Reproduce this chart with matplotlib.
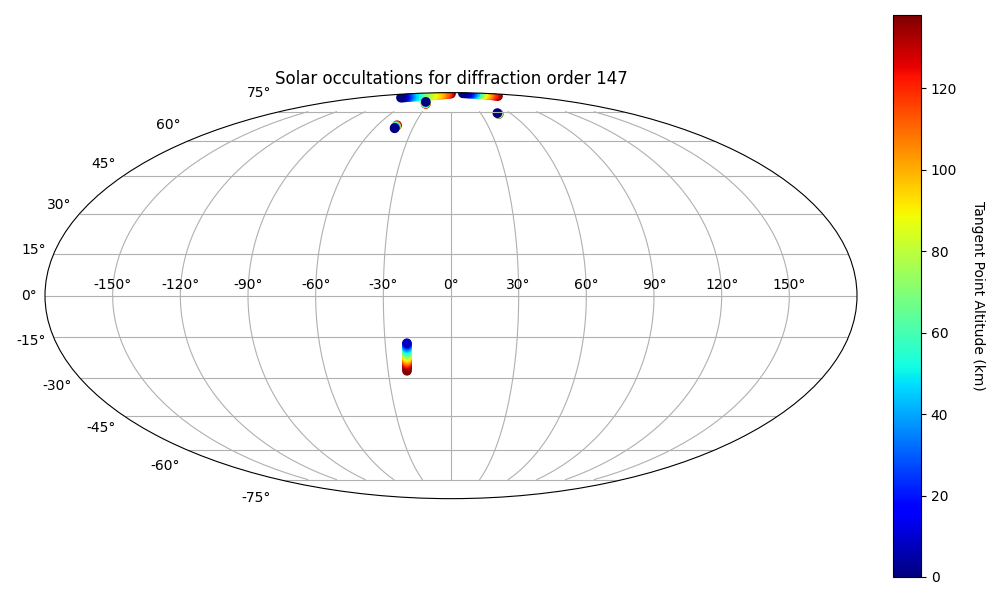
import numpy as np
import matplotlib
matplotlib.use("Agg")
import matplotlib.pyplot as plt

# Tangent point tracks, each listed from top of atmosphere downwards
# longitudes / latitudes in degrees, altitudes in km
arc1_lon = [0, -8, -15, -22, -28.5, -34, -40, -45, -49, -55, -60, -66, -71, -74, -76, -81, -86, -89, -91, -94, -96.4, -98.5, -100.6]
arc1_lat = [88.4, 88.1, 87.8, 87.5, 87.2, 87.0, 86.8, 86.5, 86.3, 86.2, 86.0, 85.8, 85.6, 85.4, 85.3, 85.2, 85.1, 85.0, 84.9, 84.8, 84.7, 84.6, 84.5]
arc1_alt = [138, 124, 116, 110, 104, 99, 95, 91, 87, 81, 76, 71, 66, 59, 53, 47, 40, 34, 28, 21, 13, 6, 0]

arc2_lon = [115, 115, 113, 111, 110, 109, 108, 105, 101, 97, 92, 89, 86, 81, 76, 71, 66]
arc2_lat = [85.9, 86.0, 86.15, 86.3, 86.6, 86.8, 87.0, 87.1, 87.2, 87.35, 87.5, 87.75, 88.0, 88.2, 88.4, 88.6, 88.8]
arc2_alt = [138, 133, 127, 120, 113, 105, 100, 94, 88, 75, 61, 45, 33, 22, 10, 5, 0]

spot1_lon = [-34, -34.5, -35, -35.5, -36.5, -37.5]
spot1_lat = [79.9, 80.05, 80.2, 80.4, 80.8, 81.3]
spot1_alt = [138, 120, 100, 80, 50, 0]

spot2_lon = [-44.0, -44.1, -44.1, -44.2, -44.2, -44.2]
spot2_lat = [67.6, 67.3, 66.9, 66.7, 66.3, 66.1]
spot2_alt = [138, 110, 80, 50, 20, 0]

spot3_lon = [47.4, 47.3, 47.0]
spot3_lat = [73.7, 73.8, 74.2]
spot3_alt = [138, 70, 0]

col_lon = [-21.0, -20.9, -20.8, -20.8, -20.7, -20.7, -20.7, -20.6, -20.6, -20.5, -20.5, -20.5, -20.4,
           -20.4, -20.4, -20.3, -20.3, -20.3, -20.3, -20.2, -20.2, -20.2, -20.2, -20.1, -20.1, -20.1]
col_lat = [-27.4, -26.58, -25.85, -25.3, -24.93, -24.56, -24.19, -23.82, -23.46, -23.09, -22.72, -22.35, -21.98,
           -21.62, -21.25, -20.88, -20.51, -20.14, -19.78, -19.41, -19.04, -18.67, -18.3, -17.94, -17.57, -17.2]
col_alt = [138, 137, 135, 132, 127, 122, 117, 112, 107, 102, 97, 92, 87,
           82, 77, 72, 67, 62, 57, 52, 47, 41, 36, 30, 22, 8]

lons = arc1_lon + arc2_lon + spot1_lon + spot2_lon + spot3_lon + col_lon
lats = arc1_lat + arc2_lat + spot1_lat + spot2_lat + spot3_lat + col_lat
alts = arc1_alt + arc2_alt + spot1_alt + spot2_alt + spot3_alt + col_alt

fig = plt.figure(figsize=(10, 6), dpi=100)
ax = fig.add_subplot(111, projection="mollweide")
ax.set_position([0.045, 101.2 / 600, 0.812, 406.3 / 600])

sc = ax.scatter(np.radians(lons), np.radians(lats), c=alts, cmap="jet", s=36, vmin=0, vmax=138)
ax.set_title("Solar occultations for diffraction order 147")
ax.grid(True)

cax = fig.add_axes([0.893, 23 / 600, 0.028, 562 / 600])
cbar = fig.colorbar(sc, cax=cax)
cbar.set_label("Tangent Point Altitude (km)", rotation=270, labelpad=20)

fig.savefig("out.png", dpi=100)
